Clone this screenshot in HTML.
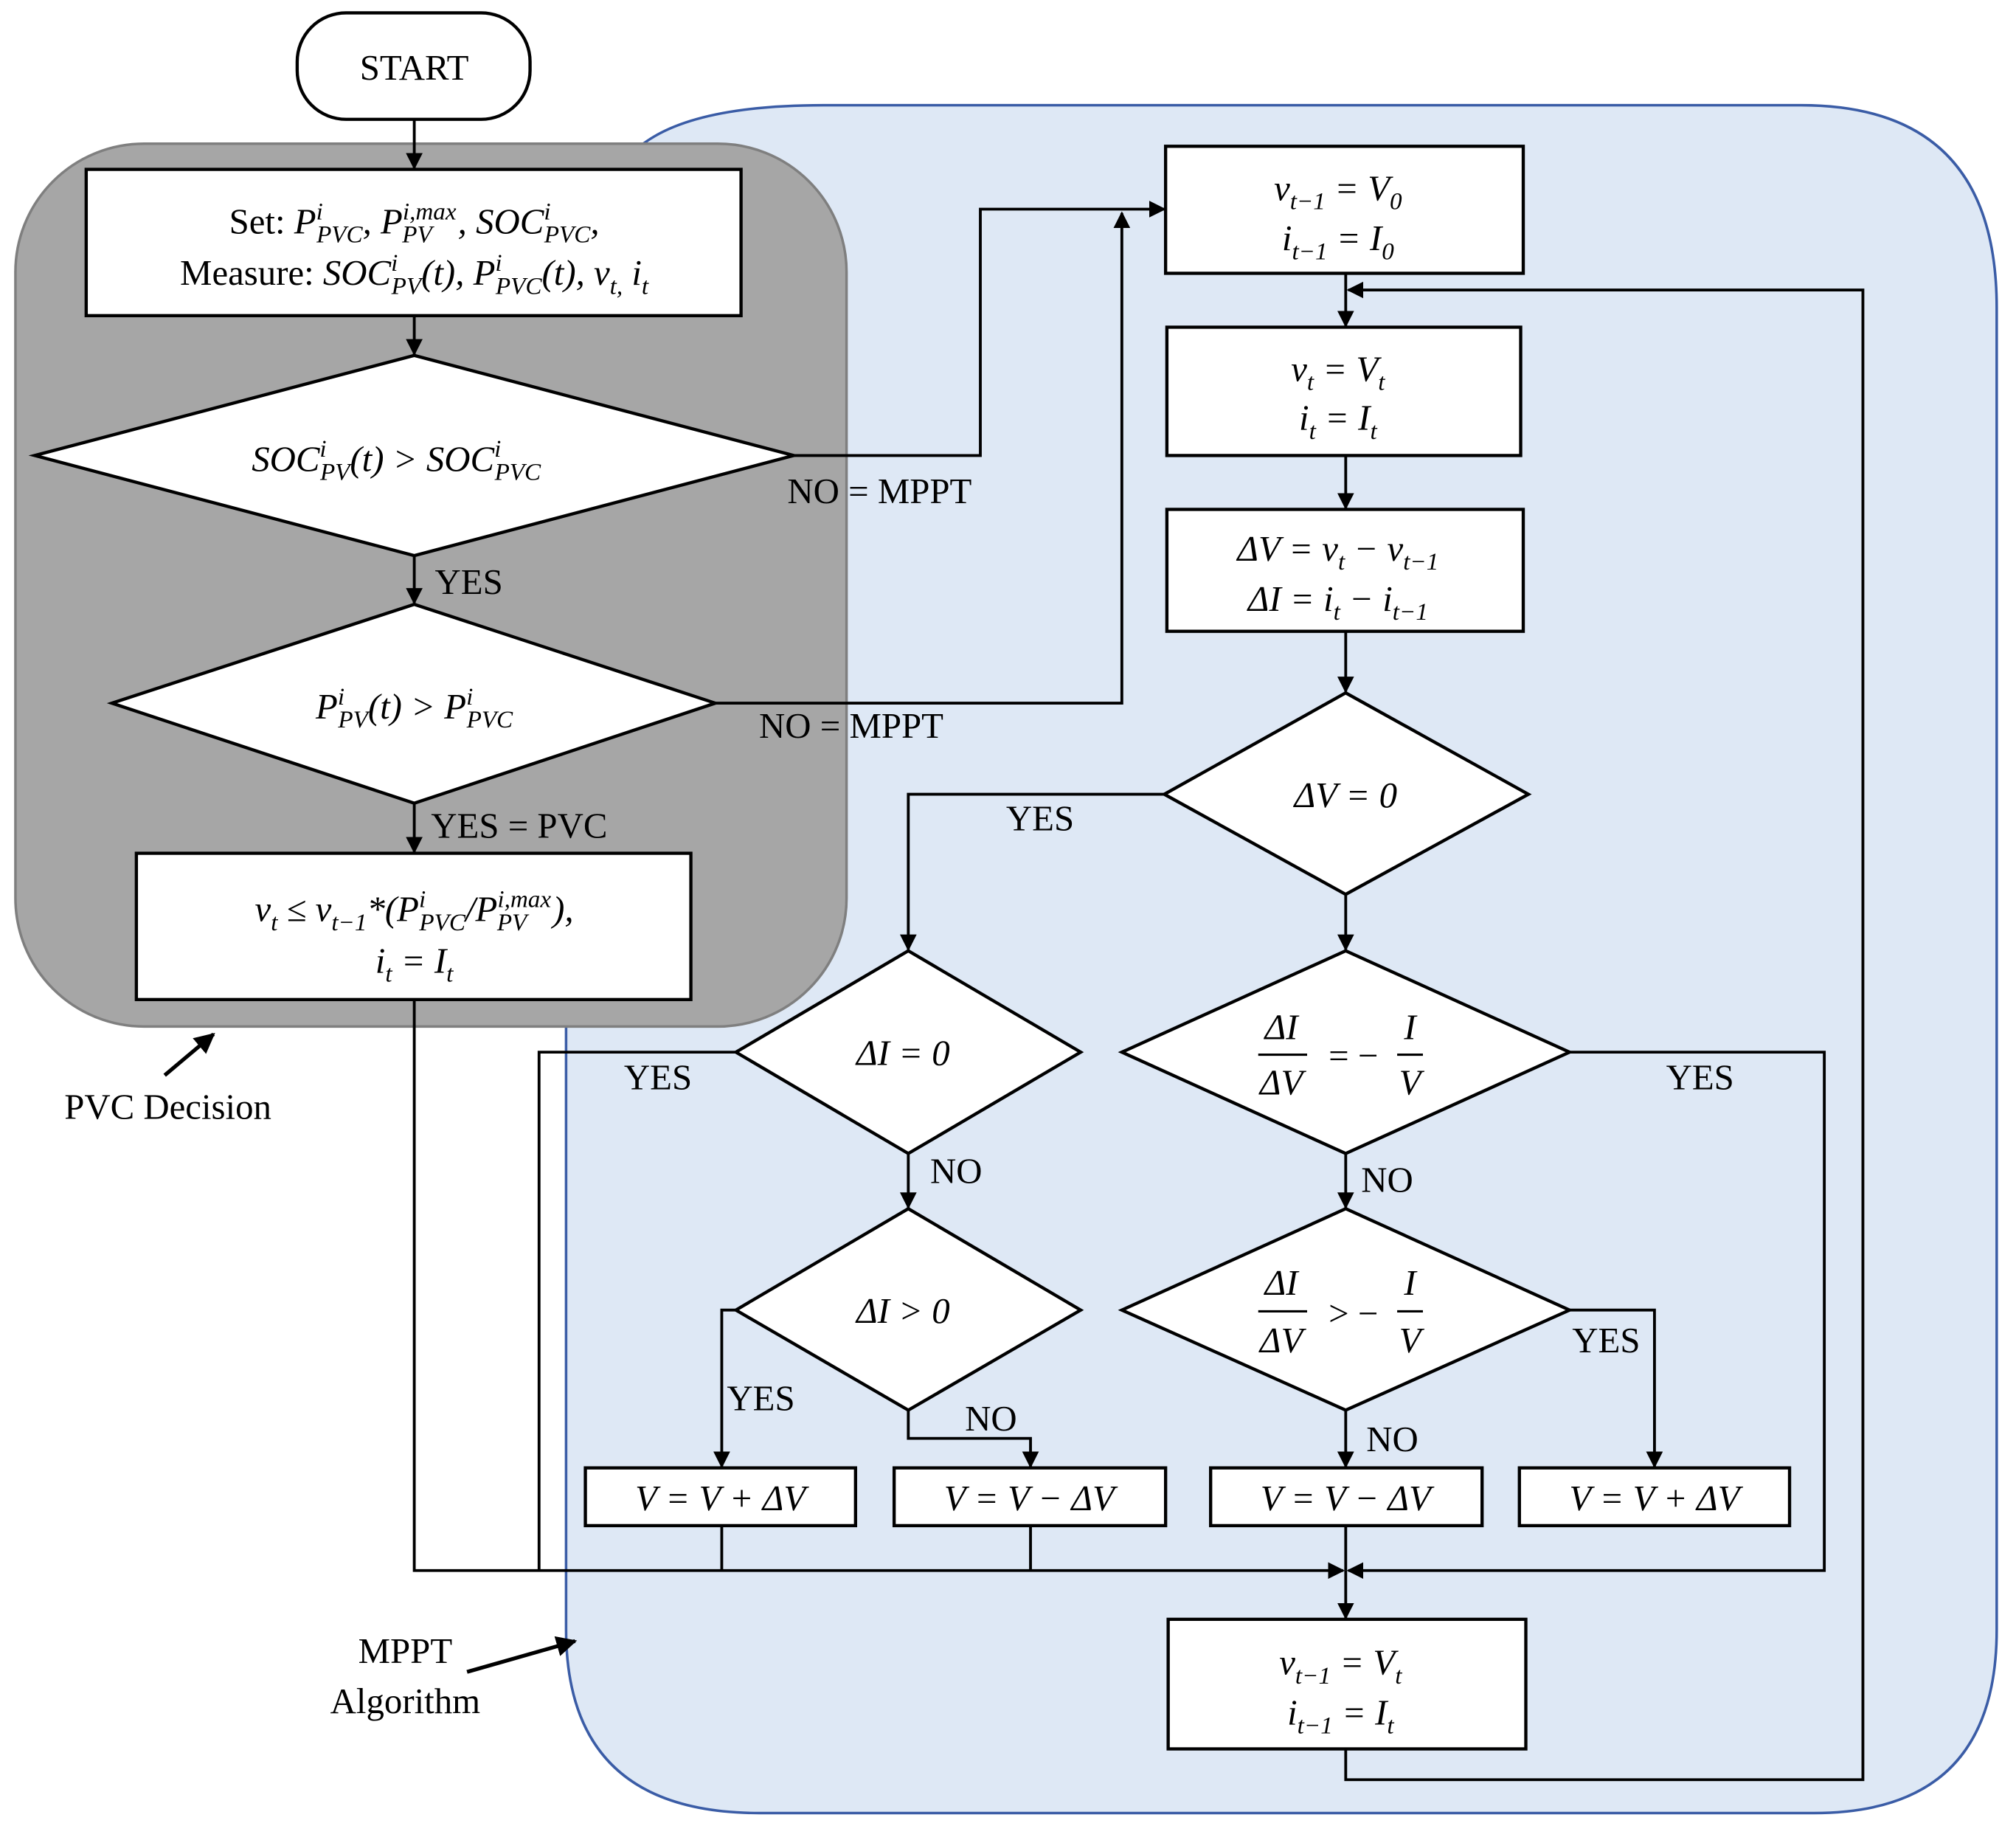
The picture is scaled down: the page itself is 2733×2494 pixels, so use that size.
<!DOCTYPE html>
<html><head><meta charset="utf-8"><style>html,body{margin:0;padding:0;background:#fff}svg{display:block}</style></head>
<body>
<svg width="2733" height="2494" viewBox="0 0 1567 1434" preserveAspectRatio="none" xmlns="http://www.w3.org/2000/svg" font-family="'Liberation Serif', serif">
<defs>
<marker id="a" viewBox="0 0 10 10" markerWidth="13" markerHeight="13" refX="9" refY="5" orient="auto" markerUnits="userSpaceOnUse"><path d="M0,0 L10,5 L0,10 z" fill="#000"/></marker>
<marker id="b" viewBox="0 0 10 10" markerWidth="16" markerHeight="16" refX="9" refY="5" orient="auto" markerUnits="userSpaceOnUse"><path d="M0,0 L10,5 L0,10 z" fill="#000"/></marker>
</defs>
<rect width="1567" height="1434" fill="#fff"/>
<path d="M440,800 L440,1270 Q440,1413 590,1413 L1410,1413 Q1552,1413 1552,1270 L1552,240 Q1552,82 1400,82 L640,82 Q540,82 500,112 Z" fill="#dee8f5" stroke="#3a5ca6" stroke-width="2"/>
<rect x="12" y="112" width="646" height="688" rx="100" fill="#a6a6a6" stroke="#7f7f7f" stroke-width="2"/>
<g fill="#fff" stroke="#000" stroke-width="2.5">
<rect x="231" y="10" width="181" height="83" rx="38"/>
<rect x="67" y="132" width="509" height="114"/>
<polygon points="27,355 322,277 617,355 322,433"/>
<polygon points="87,548 322,471 556,548 322,626"/>
<rect x="106" y="665" width="431" height="114"/>
<rect x="906" y="114" width="278" height="99"/>
<rect x="907" y="255" width="275" height="100"/>
<rect x="907" y="397" width="277" height="95"/>
<polygon points="905,619 1046,540 1188,619 1046,697"/>
<polygon points="572,820 706,741 840,820 706,899"/>
<polygon points="872,820 1046,741 1220,820 1046,899"/>
<polygon points="572,1021 706,942 840,1021 706,1099"/>
<polygon points="872,1021 1046,942 1220,1021 1046,1099"/>
<rect x="455" y="1144" width="210" height="45"/>
<rect x="695" y="1144" width="211" height="45"/>
<rect x="941" y="1144" width="211" height="45"/>
<rect x="1181" y="1144" width="210" height="45"/>
<rect x="908" y="1262" width="278" height="101"/>
</g>
<g fill="none" stroke="#000" stroke-width="2.2">
<path d="M322,93 V131" marker-end="url(#a)"/>
<path d="M322,246 V276" marker-end="url(#a)"/>
<path d="M322,433 V470" marker-end="url(#a)"/>
<path d="M322,626 V664" marker-end="url(#a)"/>
<path d="M617,355 H762 V163 H905" marker-end="url(#a)"/>
<path d="M556,548 H872 V166" marker-end="url(#a)"/>
<path d="M1046,213 V254" marker-end="url(#a)"/>
<path d="M1046,1363 V1387 H1448 V226 H1048" marker-end="url(#a)"/>
<path d="M1046,355 V396" marker-end="url(#a)"/>
<path d="M1046,492 V539" marker-end="url(#a)"/>
<path d="M905,619 H706 V740" marker-end="url(#a)"/>
<path d="M1046,697 V740" marker-end="url(#a)"/>
<path d="M572,820 H419 V1224"/>
<path d="M706,899 V941" marker-end="url(#a)"/>
<path d="M1220,820 H1418 V1224 H1048" marker-end="url(#a)"/>
<path d="M1046,899 V941" marker-end="url(#a)"/>
<path d="M572,1021 H561 V1143" marker-end="url(#a)"/>
<path d="M706,1099 V1121 H801 V1143" marker-end="url(#a)"/>
<path d="M1046,1099 V1143" marker-end="url(#a)"/>
<path d="M1220,1021 H1286 V1143" marker-end="url(#a)"/>
<path d="M322,779 V1224 H1044" marker-end="url(#a)"/>
<path d="M561,1189 V1224 M801,1189 V1224 M1046,1189 V1224"/>
<path d="M1046,1224 V1261" marker-end="url(#a)"/>
<path d="M128,838 L166,806" stroke-width="3" marker-end="url(#b)"/>
<path d="M363,1303 L447,1279" stroke-width="3" marker-end="url(#b)"/>
</g>
<g font-size="28" fill="#000">
<text x="322" y="62" text-anchor="middle">START</text>
<text x="338" y="463">YES</text>
<text x="335" y="653">YES = PVC</text>
<text x="612" y="392">NO = MPPT</text>
<text x="590" y="575">NO = MPPT</text>
<text x="782" y="647">YES</text>
<text x="485" y="849">YES</text>
<text x="1295" y="849">YES</text>
<text x="723" y="922">NO</text>
<text x="1058" y="929">NO</text>
<text x="565" y="1099">YES</text>
<text x="750" y="1115">NO</text>
<text x="1062" y="1131">NO</text>
<text x="1222" y="1054">YES</text>
<text x="50" y="872">PVC Decision</text>
<text x="315" y="1296" text-anchor="middle">MPPT</text>
<text x="315" y="1335" text-anchor="middle">Algorithm</text>
</g>
<g font-size="28" fill="#000" font-style="italic">
<text x="322" y="182" text-anchor="middle"><tspan font-style="normal">Set: </tspan>P<tspan font-size="19" dy="-11">i</tspan><tspan font-size="19" dy="18" dx="-5">PVC</tspan><tspan dy="-7">, P</tspan><tspan font-size="19" dy="-11">i,max</tspan><tspan font-size="19" dy="18" dx="-42">PV</tspan><tspan dy="-7" dx="20">, SOC</tspan><tspan font-size="19" dy="-11">i</tspan><tspan font-size="19" dy="18" dx="-5">PVC</tspan><tspan dy="-7">,</tspan></text>
<text x="322" y="222" text-anchor="middle"><tspan font-style="normal">Measure:  </tspan>SOC<tspan font-size="19" dy="-11">i</tspan><tspan font-size="19" dy="18" dx="-5">PV</tspan><tspan dy="-7">(t), P</tspan><tspan font-size="19" dy="-11">i</tspan><tspan font-size="19" dy="18" dx="-5">PVC</tspan><tspan dy="-7">(t), v</tspan><tspan font-size="19" dy="7">t,</tspan><tspan dy="-7"> i</tspan><tspan font-size="19" dy="7">t</tspan></text>
<text x="308" y="367" text-anchor="middle">SOC<tspan font-size="19" dy="-11">i</tspan><tspan font-size="19" dy="18" dx="-5">PV</tspan><tspan dy="-7">(t) &gt; SOC</tspan><tspan font-size="19" dy="-11">i</tspan><tspan font-size="19" dy="18" dx="-5">PVC</tspan></text>
<text x="322" y="560" text-anchor="middle">P<tspan font-size="19" dy="-11">i</tspan><tspan font-size="19" dy="18" dx="-5">PV</tspan><tspan dy="-7">(t) &gt; P</tspan><tspan font-size="19" dy="-11">i</tspan><tspan font-size="19" dy="18" dx="-5">PVC</tspan></text>
<text x="322" y="718" text-anchor="middle">v<tspan font-size="19" dy="7">t</tspan><tspan dy="-7"> ≤ v</tspan><tspan font-size="19" dy="7">t−1</tspan><tspan dy="-7">*(P</tspan><tspan font-size="19" dy="-11">i</tspan><tspan font-size="19" dy="18" dx="-5">PVC</tspan><tspan dy="-7">/P</tspan><tspan font-size="19" dy="-11">i,max</tspan><tspan font-size="19" dy="18" dx="-42">PV</tspan><tspan dy="-7" dx="20">),</tspan></text>
<text x="322" y="758" text-anchor="middle">i<tspan font-size="19" dy="7">t</tspan><tspan dy="-7"> = I</tspan><tspan font-size="19" dy="7">t</tspan></text>
<text x="1040" y="156" text-anchor="middle">v<tspan font-size="19" dy="7">t−1</tspan><tspan dy="-7"> = V</tspan><tspan font-size="19" dy="7">0</tspan></text>
<text x="1040" y="195" text-anchor="middle">i<tspan font-size="19" dy="7">t−1</tspan><tspan dy="-7"> = I</tspan><tspan font-size="19" dy="7">0</tspan></text>
<text x="1040" y="297" text-anchor="middle">v<tspan font-size="19" dy="7">t</tspan><tspan dy="-7"> = V</tspan><tspan font-size="19" dy="7">t</tspan></text>
<text x="1040" y="335" text-anchor="middle">i<tspan font-size="19" dy="7">t</tspan><tspan dy="-7"> = I</tspan><tspan font-size="19" dy="7">t</tspan></text>
<text x="1040" y="437" text-anchor="middle">ΔV = v<tspan font-size="19" dy="7">t</tspan><tspan dy="-7"> − v</tspan><tspan font-size="19" dy="7">t−1</tspan></text>
<text x="1040" y="476" text-anchor="middle">ΔI = i<tspan font-size="19" dy="7">t</tspan><tspan dy="-7"> − i</tspan><tspan font-size="19" dy="7">t−1</tspan></text>
<text x="1046" y="629" text-anchor="middle">ΔV = 0</text>
<text x="702" y="830" text-anchor="middle">ΔI = 0</text>
<text x="702" y="1031" text-anchor="middle">ΔI &gt; 0</text>
<text x="996" y="810" text-anchor="middle">ΔI</text><text x="996" y="853" text-anchor="middle">ΔV</text>
<text x="1052" y="832" text-anchor="middle" font-style="normal">= −</text>
<text x="1096" y="810" text-anchor="middle">I</text><text x="1096" y="853" text-anchor="middle">V</text>
<text x="996" y="1009" text-anchor="middle">ΔI</text><text x="996" y="1054" text-anchor="middle">ΔV</text>
<text x="1052" y="1033" text-anchor="middle" font-style="normal">&gt; −</text>
<text x="1096" y="1009" text-anchor="middle">I</text><text x="1096" y="1054" text-anchor="middle">V</text>
<text x="560" y="1177" text-anchor="middle">V = V + ΔV</text>
<text x="800" y="1177" text-anchor="middle">V = V − ΔV</text>
<text x="1046" y="1177" text-anchor="middle">V = V − ΔV</text>
<text x="1286" y="1177" text-anchor="middle">V = V + ΔV</text>
<text x="1042" y="1305" text-anchor="middle">v<tspan font-size="19" dy="7">t−1</tspan><tspan dy="-7"> = V</tspan><tspan font-size="19" dy="7">t</tspan></text>
<text x="1042" y="1344" text-anchor="middle">i<tspan font-size="19" dy="7">t−1</tspan><tspan dy="-7"> = I</tspan><tspan font-size="19" dy="7">t</tspan></text>
</g>
<g stroke="#000" stroke-width="1.8">
<line x1="978" y1="822" x2="1016" y2="822"/><line x1="1086" y1="822" x2="1106" y2="822"/>
<line x1="978" y1="1022" x2="1016" y2="1022"/><line x1="1086" y1="1022" x2="1106" y2="1022"/>
</g>
</svg>
</body></html>
